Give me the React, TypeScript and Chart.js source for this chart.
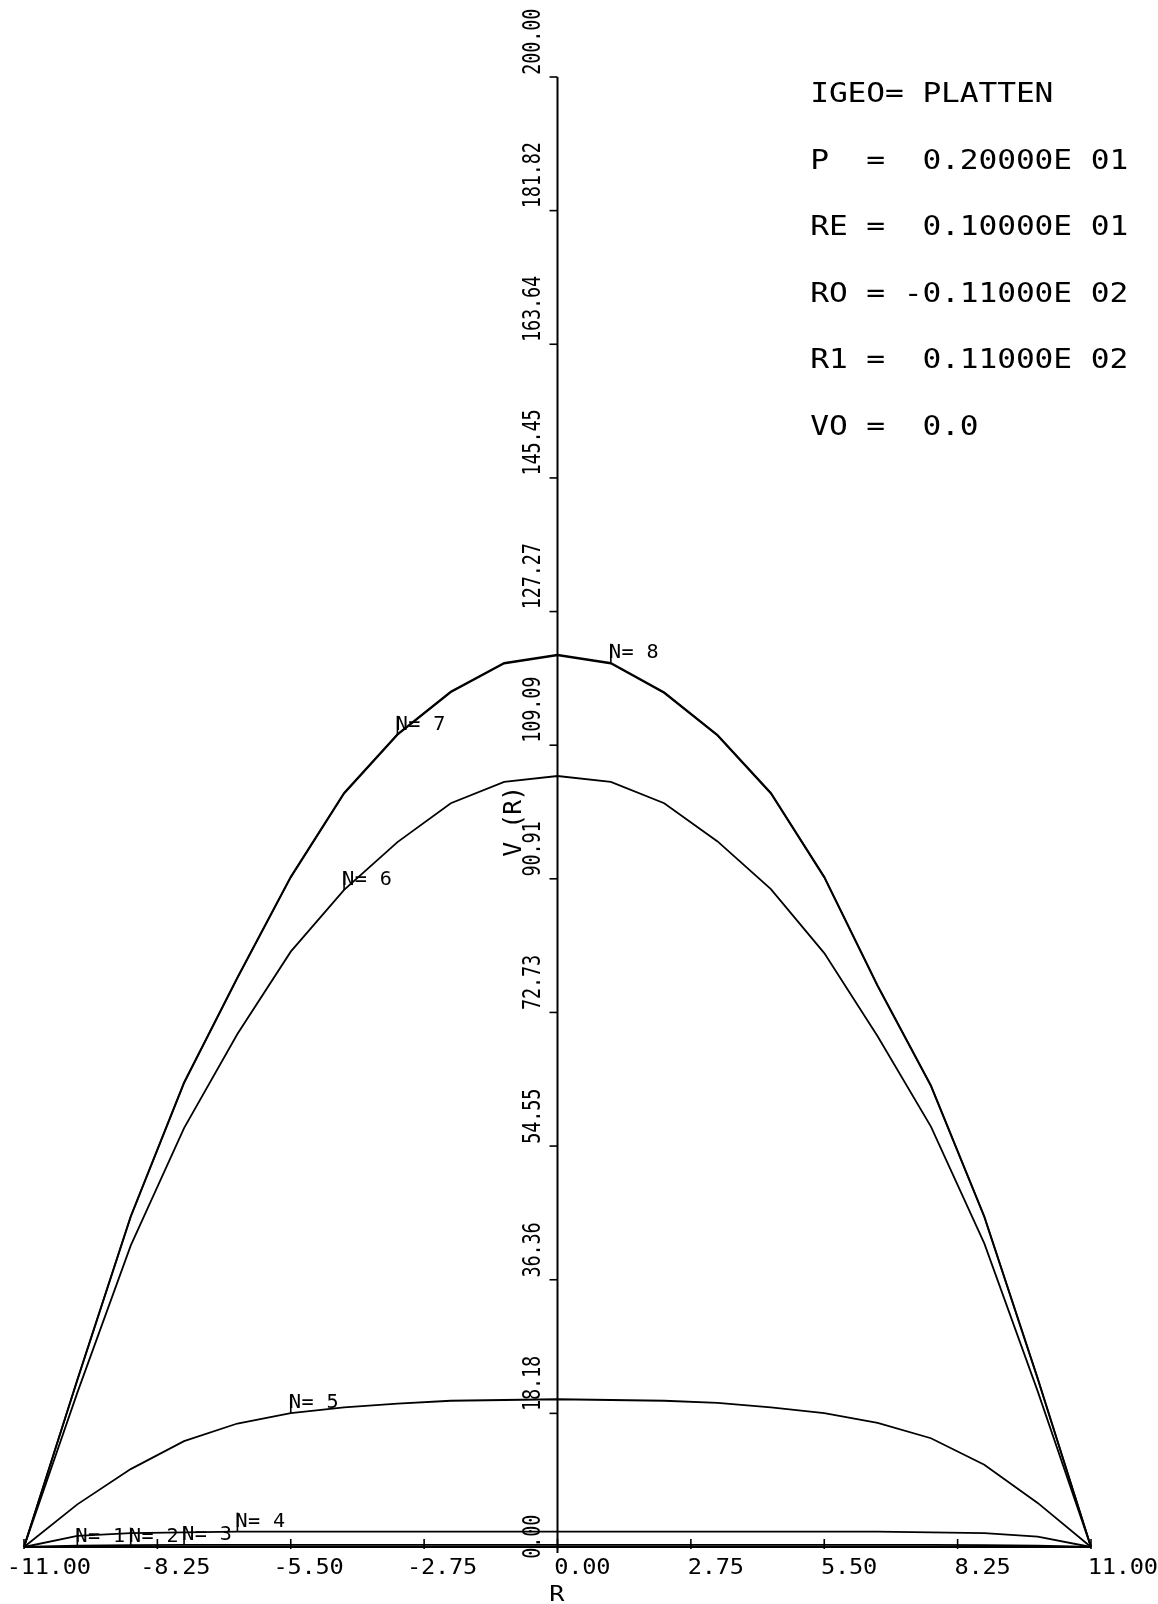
import React, { useEffect, useRef } from "react";
import { Chart, registerables } from "chart.js";

Chart.register(...registerables);

// Radial positions R (21 nodes between the plates)
const R_VALUES = [-11, -9.9, -8.8, -7.7, -6.6, -5.5, -4.4, -3.3, -2.2, -1.1, 0, 1.1, 2.2, 3.3, 4.4, 5.5, 6.6, 7.7, 8.8, 9.9, 11];

// V(R) after iteration N
const V_N1 = [0, 0, 0, 0, 0, 0, 0, 0, 0, 0, 0, 0, 0, 0, 0, 0, 0, 0, 0, 0, 0];
const V_N2 = [0, 0.04, 0.05, 0.05, 0.05, 0.05, 0.05, 0.05, 0.05, 0.05, 0.05, 0.05, 0.05, 0.05, 0.05, 0.05, 0.05, 0.05, 0.05, 0.04, 0];
const V_N3 = [0, 0.2, 0.25, 0.28, 0.3, 0.3, 0.3, 0.3, 0.3, 0.3, 0.3, 0.3, 0.3, 0.3, 0.3, 0.3, 0.3, 0.28, 0.25, 0.2, 0];
const V_N4 = [0, 1.5, 1.9, 2.0, 2.1, 2.1, 2.1, 2.1, 2.1, 2.1, 2.1, 2.1, 2.1, 2.1, 2.1, 2.1, 2.1, 2.0, 1.9, 1.4, 0];
const V_N5 = [0, 5.8, 10.6, 14.4, 16.8, 18.2, 19.0, 19.5, 19.9, 20.0, 20.1, 20.0, 19.9, 19.6, 19.0, 18.2, 16.9, 14.8, 11.2, 6.0, 0];
const V_N6 = [0, 21.0, 41.0, 57.0, 69.8, 81.0, 89.4, 95.9, 101.2, 104.1, 104.9, 104.1, 101.2, 96.0, 89.5, 80.8, 69.5, 57.2, 41.3, 21.2, 0];
const V_N7 = [0, 22.7, 44.9, 63.1, 77.4, 91.1, 102.5, 110.5, 116.3, 120.2, 121.3, 120.2, 116.2, 110.4, 102.5, 91.1, 76.3, 62.7, 44.9, 22.9, 0];
const V_N8 = [0, 22.8, 45.0, 63.2, 77.5, 91.2, 102.6, 110.6, 116.4, 120.3, 121.4, 120.3, 116.3, 110.5, 102.6, 91.2, 76.4, 62.8, 45.0, 23.0, 0];

const SERIES = [V_N1, V_N2, V_N3, V_N4, V_N5, V_N6, V_N7, V_N8];
const SERIES_LABELS = ["N= 1", "N= 2", "N= 3", "N= 4", "N= 5", "N= 6", "N= 7", "N= 8"];
// node index at which each curve carries its tag
const LABEL_INDEX = [1, 2, 3, 4, 5, 6, 7, 11];

const X_TICKS = ["-11.00", "-8.25", "-5.50", "-2.75", "0.00", "2.75", "5.50", "8.25", "11.00"];
const Y_TICKS = ["0.00", "18.18", "36.36", "54.55", "72.73", "90.91", "109.09", "127.27", "145.45", "163.64", "181.82", "200.00"];

const X_TITLE = "R";
const Y_TITLE = "V (R)";

const PARAM_LINES = [
  "IGEO= PLATTEN",
  "P  =  0.20000E 01",
  "RE =  0.10000E 01",
  "RO = -0.11000E 02",
  "R1 =  0.11000E 02",
  "VO =  0.0",
];

const FONT = '"DejaVu Sans Mono"';

// Fixed-pitch lettering, one glyph per cell, like a pen plotter.
function plotText(
  ctx: CanvasRenderingContext2D,
  text: string,
  x: number,
  y: number,
  pitch: number,
  cap: number,
  sx: number,
  rot = 0
) {
  const size = cap / 0.729;
  ctx.save();
  ctx.translate(x, y);
  ctx.rotate(rot);
  ctx.font = `${size}px ${FONT}`;
  ctx.textAlign = "left";
  ctx.textBaseline = "alphabetic";
  ctx.fillStyle = "#000";
  const lsb = 0.09 * size * sx;
  for (let i = 0; i < text.length; i++) {
    const ch = text[i];
    if (ch === " ") continue;
    ctx.save();
    ctx.translate(i * pitch - lsb, 0);
    ctx.scale(sx, 1);
    ctx.fillText(ch, 0, 0);
    ctx.restore();
  }
  ctx.restore();
}

const plotterPlugin = {
  id: "plotter",
  beforeDraw(chart: any) {
    const ctx = chart.ctx;
    ctx.save();
    ctx.fillStyle = "#fff";
    ctx.fillRect(0, 0, chart.width, chart.height);
    ctx.restore();
  },
  beforeDatasetsDraw(chart: any) {
    const ctx: CanvasRenderingContext2D = chart.ctx;
    const xs = chart.scales.x;
    const ys = chart.scales.y;
    const x0 = xs.getPixelForValue(0);
    const yBase = ys.getPixelForValue(0);
    const yTop = ys.getPixelForValue(200);
    ctx.save();
    ctx.strokeStyle = "#000";
    ctx.lineWidth = 2;
    ctx.lineCap = "butt";
    // R axis
    ctx.beginPath();
    ctx.moveTo(xs.getPixelForValue(-11), yBase);
    ctx.lineTo(xs.getPixelForValue(11), yBase);
    ctx.stroke();
    // V axis
    ctx.beginPath();
    ctx.moveTo(x0, yBase + 6);
    ctx.lineTo(x0, yTop);
    ctx.stroke();
    ctx.lineWidth = 1.6;
    // R ticks + labels: digits start at the tick, a minus sign sits in front
    const xPitch = 14;
    X_TICKS.forEach((t) => {
      const px = xs.getPixelForValue(parseFloat(t));
      ctx.beginPath();
      ctx.moveTo(px, yBase + 2);
      ctx.lineTo(px, yBase - 8);
      ctx.stroke();
      const sign = t.startsWith("-") ? xPitch : 0;
      plotText(ctx, t, px - sign - 1, yBase + 27, xPitch, 15, 1.15);
    });
    // V ticks + labels (rotated)
    Y_TICKS.forEach((t, i) => {
      const py = ys.getPixelForValue(parseFloat(t));
      ctx.beginPath();
      ctx.moveTo(x0, py);
      ctx.lineTo(x0 - 8, py);
      ctx.stroke();
      const start = i === 0 ? py + 10 : py - 4;
      plotText(ctx, t, x0 - 18, start, 11, 18, 0.75, -Math.PI / 2);
    });
    ctx.restore();
    // axis titles
    plotText(ctx, X_TITLE, x0 - 6, yBase + 54, 14, 16, 1.15);
    plotText(ctx, Y_TITLE, x0 - 37, ys.getPixelForValue(94.2), 14, 18, 1.0, -Math.PI / 2);
  },
  afterDatasetsDraw(chart: any) {
    const ctx: CanvasRenderingContext2D = chart.ctx;
    const xs = chart.scales.x;
    const ys = chart.scales.y;
    ctx.save();
    ctx.strokeStyle = "#000";
    ctx.lineWidth = 1.6;
    SERIES.forEach((vals, k) => {
      const idx = LABEL_INDEX[k];
      const px = xs.getPixelForValue(R_VALUES[idx]);
      const py = ys.getPixelForValue(vals[idx]);
      ctx.beginPath();
      ctx.moveTo(px, py);
      ctx.lineTo(px, py - 19);
      ctx.stroke();
      plotText(ctx, SERIES_LABELS[k], px, py - 5, 12.5, 14, 1.05);
    });
    ctx.restore();
    // parameter block
    PARAM_LINES.forEach((line, i) => {
      plotText(ctx, line, 813, 102 + i * 66.6, 18.7, 19, 1.2);
    });
  },
};

export default function App() {
  const canvasRef = useRef<HTMLCanvasElement | null>(null);

  useEffect(() => {
    const canvas = canvasRef.current;
    if (!canvas) return;
    const chart = new Chart(canvas, {
      type: "line",
      data: {
        datasets: SERIES.map((vals, k) => ({
          label: SERIES_LABELS[k],
          data: R_VALUES.map((r, i) => ({ x: r, y: vals[i] })),
          borderColor: "#000",
          borderWidth: 1.8,
          pointRadius: 0,
          fill: false,
          tension: 0,
          clip: false as any,
        })),
      },
      options: {
        responsive: false,
        animation: false,
        devicePixelRatio: 1,
        layout: { padding: { left: 24, right: 67, top: 77, bottom: 57 } },
        scales: {
          x: { type: "linear", min: -11, max: 11, display: false },
          y: { type: "linear", min: 0, max: 200, display: false },
        },
        plugins: {
          legend: { display: false },
          tooltip: { enabled: false },
        },
        events: [],
      },
      plugins: [plotterPlugin],
    });
    return () => chart.destroy();
  }, []);

  return (
    <div style={{ position: "absolute", left: 0, top: 0, width: 1158, height: 1604, background: "#fff" }}>
      <canvas ref={canvasRef} width={1158} height={1604} style={{ display: "block" }} />
    </div>
  );
}
